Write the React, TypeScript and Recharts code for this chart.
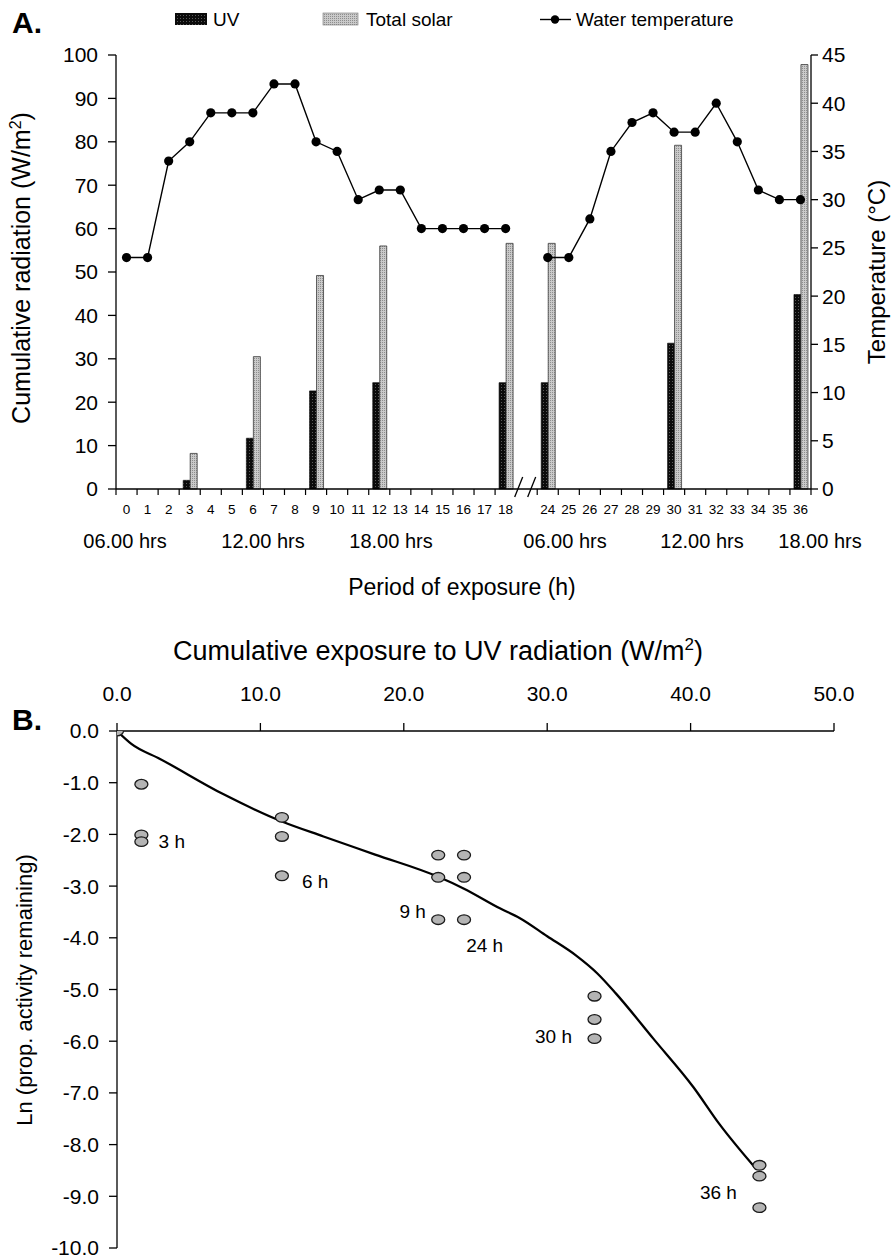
import {
  ComposedChart,
  Bar,
  Line,
  Scatter,
  XAxis,
  YAxis,
} from 'recharts'

// =============================================================================
// Data — panel A (hourly exposure, with an axis break between 18 and 24)
// =============================================================================

const GAP = ' '

const hours = [
  '0', '1', '2', '3', '4', '5', '6', '7', '8', '9', '10', '11', '12', '13', '14', '15', '16', '17', '18',
  GAP,
  '24', '25', '26', '27', '28', '29', '30', '31', '32', '33', '34', '35', '36',
]

// cumulative UV radiation (W/m2)
const uvRadiation = [
  null, null, null, 2.0, null, null, 11.7, null, null, 22.6, null, null, 24.5, null, null, null, null, null, 24.5,
  null,
  24.5, null, null, null, null, null, 33.6, null, null, null, null, null, 44.8,
]

// cumulative total solar radiation (W/m2)
const solarRadiation = [
  null, null, null, 8.2, null, null, 30.5, null, null, 49.2, null, null, 56.0, null, null, null, null, null, 56.6,
  null,
  56.6, null, null, null, null, null, 79.2, null, null, null, null, null, 97.8,
]

// water temperature (°C)
const waterTemp = [
  24, 24, 34, 36, 39, 39, 39, 42, 42, 36, 35, 30, 31, 31, 27, 27, 27, 27, 27,
  null,
  24, 24, 28, 35, 38, 39, 37, 37, 40, 36, 31, 30, 30,
]

const radiationTicks = [0, 10, 20, 30, 40, 50, 60, 70, 80, 90, 100]
const tempTicks = [0, 5, 10, 15, 20, 25, 30, 35, 40, 45]

const clockLabels = ['06.00 hrs', '12.00 hrs', '18.00 hrs', '06.00 hrs', '12.00 hrs', '18.00 hrs']
const clockLabelX = [125, 263, 391, 565, 702, 820]

// =============================================================================
// Data — panel B (ln activity vs cumulative UV dose)
// =============================================================================

const uvDose = [
  0,
  1.7, 1.7, 1.7,
  11.5, 11.5, 11.5,
  22.4, 22.4, 22.4,
  24.2, 24.2, 24.2,
  33.3, 33.3, 33.3,
  44.8, 44.8, 44.8,
]
const lnActivity = [
  0,
  -1.03, -2.01, -2.14,
  -1.67, -2.04, -2.8,
  -2.4, -2.83, -3.65,
  -2.4, -2.83, -3.65,
  -5.13, -5.58, -5.95,
  -8.4, -8.61, -9.22,
]

// fitted curve
const fitDose = [0, 1, 3, 7.4, 11.5, 14.4, 18, 22.4, 24.2, 26.7, 28.1, 30, 32, 33.5, 34.8, 37.4, 40.2, 42, 44.6]
const fitLn = [0, -0.25, -0.54, -1.22, -1.75, -2.04, -2.39, -2.82, -3.05, -3.43, -3.62, -3.97, -4.34, -4.69, -5.08, -5.95, -6.89, -7.6, -8.48]

const timeLabels = ['3 h', '6 h', '9 h', '24 h', '30 h', '36 h']
const timeLabelDose = [2.9, 12.9, 19.7, 24.35, 29.15, 40.65]
const timeLabelLn = [-2.27, -3.03, -3.62, -4.28, -6.04, -9.06]

const doseTicks = [0, 10, 20, 30, 40, 50]
const lnTicks = [0, -1, -2, -3, -4, -5, -6, -7, -8, -9, -10]

// =============================================================================
// Derived tables
// =============================================================================

const hourlyRows = hours.map((h, i) => ({
  hour: h,
  uv: uvRadiation[i],
  solar: solarRadiation[i],
  temp: waterTemp[i],
}))

const pointRows = uvDose.map((x, i) => ({ x, y: lnActivity[i] }))
const fitRows = fitDose.map((x, i) => ({ x, y: fitLn[i] }))
const labelRows = timeLabels.map((t, i) => ({ x: timeLabelDose[i], y: timeLabelLn[i], text: t }))

// =============================================================================
// Layout constants
// =============================================================================

const FONT = "'Liberation Sans', Arial, sans-serif"
const PLOT_LEFT = 116
const PLOT_RIGHT = 811
const BAND = (PLOT_RIGHT - PLOT_LEFT) / hours.length

// =============================================================================
// Sub-components
// =============================================================================

function HourTick(props: any) {
  const { x, y, payload } = props
  const value = payload.value
  if (value === GAP) {
    return (
      <g stroke="#000" strokeWidth={1.3}>
        <line x1={x - 12} y1={y + 8} x2={x - 4} y2={y - 12} />
        <line x1={x + 1} y1={y + 8} x2={x + 9} y2={y - 12} />
      </g>
    )
  }
  const half = BAND / 2
  return (
    <g>
      <line x1={x - half} x2={x - half} y1={y} y2={y + 6} stroke="#000" strokeWidth={1.2} />
      {value === '36' && (
        <line x1={x + half} x2={x + half} y1={y} y2={y + 6} stroke="#000" strokeWidth={1.2} />
      )}
      <text x={x} y={y + 25} textAnchor="middle" fontSize={13.5} fill="#000">
        {value}
      </text>
    </g>
  )
}

function Ellipse(props: any) {
  const { cx, cy } = props
  return <ellipse cx={cx} cy={cy} rx={6.5} ry={4.8} fill="#b4b4b4" stroke="#1a1a1a" strokeWidth={1.3} />
}

function TimeLabel(props: any) {
  const { cx, cy, payload } = props
  return (
    <text x={cx} y={cy} fontSize={19} fill="#000">
      {payload.text}
    </text>
  )
}

// =============================================================================
// Main component
// =============================================================================

export default function App() {
  const axisStroke = '#000'
  const tickStyle = { fill: '#000', fontSize: 21 }

  return (
    <div
      style={{
        position: 'absolute',
        left: 0,
        top: 0,
        width: 895,
        height: 1259,
        background: '#fff',
        fontFamily: FONT,
      }}
    >
      {/* Panel A */}
      <div style={{ position: 'absolute', left: 0, top: 0, width: 895, height: 610 }}>
        <ComposedChart
          width={895}
          height={610}
          data={hourlyRows}
          margin={{ top: 55, right: 0, bottom: 81, left: 0 }}
          barGap={0}
        >
          <XAxis
            dataKey="hour"
            height={40}
            interval={0}
            tickSize={0}
            tickMargin={0}
            tickLine={false}
            stroke={axisStroke}
            strokeWidth={1.3}
            tick={<HourTick />}
          />
          <YAxis
            yAxisId="left"
            width={PLOT_LEFT}
            domain={[0, 100]}
            ticks={radiationTicks}
            interval={0}
            tickSize={8}
            tickMargin={10}
            stroke={axisStroke}
            strokeWidth={1.3}
            tick={tickStyle}
          />
          <YAxis
            yAxisId="right"
            orientation="right"
            width={895 - PLOT_RIGHT}
            domain={[0, 45]}
            ticks={tempTicks}
            interval={0}
            tickSize={7}
            tickMargin={4}
            stroke={axisStroke}
            strokeWidth={1.3}
            tick={tickStyle}
          />
          <Bar
            yAxisId="left"
            dataKey="uv"
            barSize={7}
            fill="url(#uvFill)"
            stroke="#000"
            strokeWidth={0.6}
            isAnimationActive={false}
          />
          <Bar
            yAxisId="left"
            dataKey="solar"
            barSize={7}
            fill="url(#solarFill)"
            stroke="#3a3a3a"
            strokeWidth={0.8}
            isAnimationActive={false}
          />
          <Line
            yAxisId="right"
            dataKey="temp"
            type="linear"
            stroke="#000"
            strokeWidth={1.4}
            dot={{ r: 4.6, fill: '#000', stroke: '#000', strokeWidth: 0 }}
            activeDot={false}
            connectNulls={false}
            isAnimationActive={false}
          />
        </ComposedChart>

        <svg
          width={895}
          height={610}
          style={{ position: 'absolute', left: 0, top: 0, pointerEvents: 'none' }}
        >
          <defs>
            <pattern id="uvFill" width={3} height={3} patternUnits="userSpaceOnUse">
              <rect width={3} height={3} fill="#0b0b0b" />
              <rect width={1} height={1} fill="#5a5a5a" />
            </pattern>
            <pattern id="solarFill" width={2} height={2} patternUnits="userSpaceOnUse">
              <rect width={2} height={2} fill="#cacaca" />
              <rect width={1} height={1} fill="#8e8e8e" />
            </pattern>
          </defs>

          <text x={12} y={33} fontSize={30} fontWeight="bold" fill="#000">A.</text>

          {/* legend */}
          <rect x={175} y={13} width={32} height={12} fill="url(#uvFill)" />
          <text x={213} y={26} fontSize={19} fill="#000">UV</text>
          <rect x={323} y={13} width={35} height={12} fill="url(#solarFill)" stroke="#777" strokeWidth={0.6} />
          <text x={366} y={26} fontSize={19} fill="#000">Total solar</text>
          <line x1={540} x2={571} y1={19.5} y2={19.5} stroke="#000" strokeWidth={1.4} />
          <circle cx={555} cy={19.5} r={4.2} fill="#000" />
          <text x={576} y={26} fontSize={19} fill="#000">Water temperature</text>

          {clockLabels.map((t, i) => (
            <text key={i} x={clockLabelX[i]} y={548} fontSize={20} textAnchor="middle" fill="#000">
              {t}
            </text>
          ))}
          <text x={462} y={595} fontSize={23} textAnchor="middle" fill="#000">
            Period of exposure (h)
          </text>
          <text
            transform="translate(30 268) rotate(-90)"
            fontSize={25}
            textAnchor="middle"
            fill="#000"
          >
            Cumulative radiation (W/m<tspan dy={-9} fontSize={16}>2</tspan><tspan dy={9}>)</tspan>
          </text>
          <text
            transform="translate(885 272) rotate(-90)"
            fontSize={24}
            textAnchor="middle"
            fill="#000"
          >
            Temperature (°C)
          </text>
        </svg>
      </div>

      {/* Panel B */}
      <div style={{ position: 'absolute', left: 0, top: 620, width: 895, height: 639 }}>
        <ComposedChart
          width={895}
          height={639}
          margin={{ top: 61, right: 61, bottom: 11, left: 0 }}
        >
          <XAxis
            type="number"
            dataKey="x"
            orientation="top"
            height={50}
            domain={[0, 50]}
            ticks={doseTicks}
            interval={0}
            tickFormatter={(v: number) => v.toFixed(1)}
            tickSize={8}
            tickMargin={22}
            stroke={axisStroke}
            strokeWidth={1.3}
            tick={tickStyle}
            allowDataOverflow
          />
          <YAxis
            type="number"
            dataKey="y"
            width={117}
            domain={[-10, 0]}
            ticks={lnTicks}
            interval={0}
            tickFormatter={(v: number) => v.toFixed(1)}
            tickSize={8}
            tickMargin={10}
            stroke={axisStroke}
            strokeWidth={1.3}
            tick={tickStyle}
            allowDataOverflow
          />
          <Line
            data={fitRows}
            dataKey="y"
            type="monotone"
            stroke="#000"
            strokeWidth={2.3}
            dot={false}
            activeDot={false}
            isAnimationActive={false}
          />
          <Scatter data={pointRows} dataKey="y" shape={<Ellipse />} isAnimationActive={false} />
          <Scatter data={labelRows} dataKey="y" shape={<TimeLabel />} isAnimationActive={false} />
        </ComposedChart>

        <svg
          width={895}
          height={639}
          style={{ position: 'absolute', left: 0, top: 0, pointerEvents: 'none' }}
        >
          <text x={12} y={110} fontSize={30} fontWeight="bold" fill="#000">B.</text>
          <text x={438} y={40} fontSize={27} textAnchor="middle" fill="#000">
            Cumulative exposure to UV radiation (W/m<tspan dy={-10} fontSize={17}>2</tspan><tspan dy={10}>)</tspan>
          </text>
          <text
            transform="translate(32 370) rotate(-90)"
            fontSize={22}
            textAnchor="middle"
            fill="#000"
          >
            Ln (prop. activity remaining)
          </text>
        </svg>
      </div>
    </div>
  )
}
